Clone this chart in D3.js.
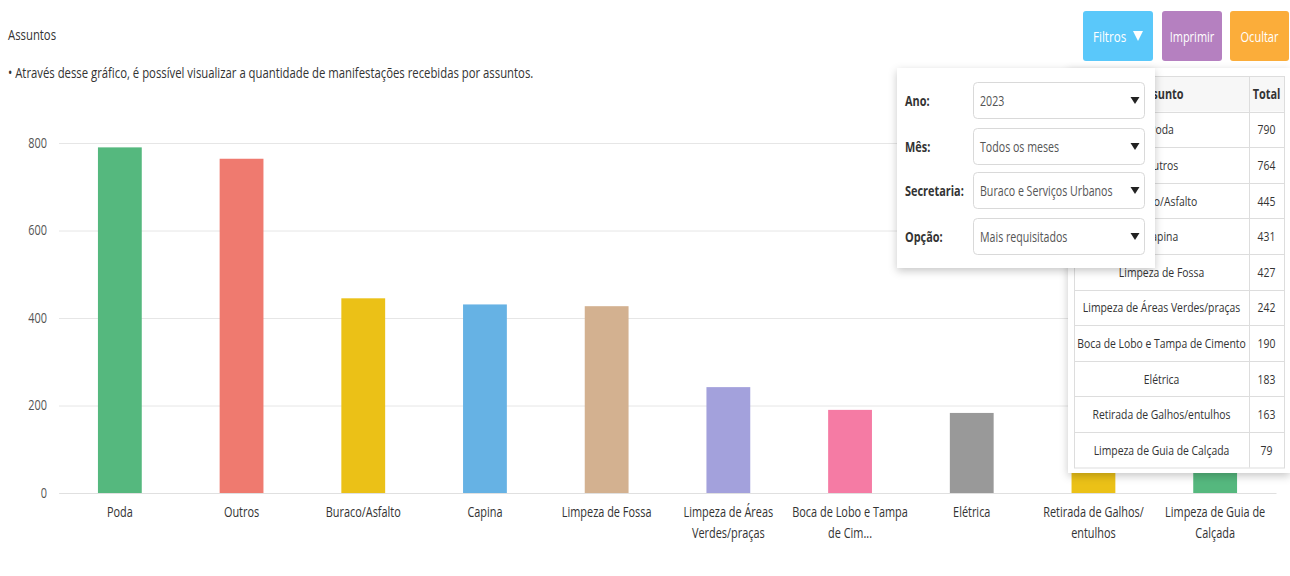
<!DOCTYPE html>
<html lang="pt-BR">
<head>
<meta charset="utf-8">
<title>Assuntos</title>
<script src="https://cdn.jsdelivr.net/npm/d3@7"></script>
<style>
  html, body { margin: 0; padding: 0; background: #fff; }
  svg { display: block; }
  text { font-family: "Open Sans", "Noto Sans", sans-serif; }
</style>
</head>
<body>
<svg id="chart" width="1290" height="576"></svg>
<script>
// Manifestações por assunto
const categories = ["Poda", "Outros", "Buraco/Asfalto", "Capina", "Limpeza de Fossa",
  "Limpeza de Áreas Verdes/praças", "Boca de Lobo e Tampa de Cimento", "Elétrica",
  "Retirada de Galhos/entulhos", "Limpeza de Guia de Calçada"];
const totals = [790, 764, 445, 431, 427, 242, 190, 183, 163, 79];
const tickLabels = [["Poda"], ["Outros"], ["Buraco/Asfalto"], ["Capina"], ["Limpeza de Fossa"],
  ["Limpeza de Áreas", "Verdes/praças"], ["Boca de Lobo e Tampa", "de Cim..."], ["Elétrica"],
  ["Retirada de Galhos/", "entulhos"], ["Limpeza de Guia de", "Calçada"]];
const barColors = ["#55b87e", "#ef7a6f", "#ebc117", "#66b2e4", "#d3b190",
  "#a3a1dc", "#f57ba4", "#999999", "#ebc117", "#55b87e"];
const yTicks = [0, 200, 400, 600, 800];

// Filtros
const filterLabels = ["Ano:", "Mês:", "Secretaria:", "Opção:"];
const filterValues = ["2023", "Todos os meses", "Buraco e Serviços Urbanos", "Mais requisitados"];
const buttonLabels = ["Filtros", "Imprimir", "Ocultar"];
const buttonColors = ["#5ac8fa", "#b580c0", "#fbad3a"];
const tableHeader = ["Assunto", "Total"];

const SX = 0.78; // condensed text width
const svg = d3.select("#chart");

const defs = svg.append("defs");
const sh = defs.append("filter").attr("id", "shadow")
  .attr("x", "-10%").attr("y", "-10%").attr("width", "125%").attr("height", "125%");
sh.append("feDropShadow").attr("dx", 0).attr("dy", 3).attr("stdDeviation", 4)
  .attr("flood-color", "#000").attr("flood-opacity", 0.22);

function label(parent, x, y, str, opts = {}) {
  return parent.append("text")
    .attr("transform", `translate(${x},${y}) scale(${opts.sx || SX},1)`)
    .attr("text-anchor", opts.anchor || "start")
    .attr("font-size", opts.size || 14)
    .attr("font-weight", opts.weight || "normal")
    .attr("fill", opts.fill || "#333")
    .text(str);
}

// Header texts
label(svg, 8, 40, "Assuntos", { size: 14, fill: "#333", sx: 0.81 });
label(svg, 8, 78, "• Através desse gráfico, é possível visualizar a quantidade de manifestações recebidas por assuntos.", { size: 14, fill: "#333", sx: 0.81 });

// Scales
const x = d3.scaleBand().domain(categories).range([59, 1276])
  .paddingInner(0.64).paddingOuter(0.32);
const y = d3.scaleLinear().domain([0, 800]).range([493, 143]);

// Grid + y axis
const yAxis = svg.append("g").attr("transform", "translate(59,0)")
  .call(d3.axisLeft(y).tickValues(yTicks).tickSize(-1217).tickPadding(12));
yAxis.select(".domain").remove();
yAxis.selectAll(".tick line").attr("stroke", "#e6e6e6").attr("stroke-width", 1);
yAxis.selectAll(".tick text")
  .attr("font-size", 14).attr("fill", "#555")
  .attr("x", -12 / SX)
  .attr("transform", `scale(${SX},1)`);

// Bars
svg.append("g").selectAll("rect").data(categories).join("rect")
  .attr("x", d => x(d))
  .attr("width", x.bandwidth())
  .attr("y", (d, i) => y(totals[i]))
  .attr("height", (d, i) => y(0) - y(totals[i]))
  .attr("fill", (d, i) => barColors[i]);

// X axis
const xAxis = svg.append("g").attr("transform", "translate(0,493)")
  .call(d3.axisBottom(x).tickSize(0).tickPadding(0));
xAxis.select(".domain").attr("stroke", "#e0e0e0").attr("d", "M59.5,0.5H1276.5");
xAxis.selectAll(".tick text").each(function (d, i) {
  const t = d3.select(this).text(null)
    .attr("y", 0).attr("dy", null)
    .attr("font-size", 14).attr("fill", "#333")
    .attr("transform", `scale(${SX},1)`);
  tickLabels[i].forEach((line, k) => {
    t.append("tspan").attr("x", 0).attr("y", 24 + k * 21).text(line);
  });
});

// Buttons
const btnX = [1083, 1162, 1230];
const btnW = [70, 60, 59];
buttonLabels.forEach((b, i) => {
  svg.append("rect").attr("x", btnX[i]).attr("y", 11).attr("width", btnW[i]).attr("height", 50)
    .attr("rx", 3).attr("fill", buttonColors[i]);
  if (i === 0) {
    label(svg, btnX[i] + 10, 42, b, { size: 14.5, fill: "#fff", sx: 0.8 });
    svg.append("path").attr("d", "M1133,31L1143,31L1138,41Z").attr("fill", "#fff");
  } else {
    label(svg, btnX[i] + btnW[i] / 2, 42, b, { anchor: "middle", size: 14.5, fill: "#fff", sx: 0.76 });
  }
});

// Table panel
const tbl = svg.append("g");
tbl.append("rect").attr("x", 1068).attr("y", 68).attr("width", 222).attr("height", 405)
  .attr("fill", "#fff").attr("filter", "url(#shadow)");
const tx0 = 1074, tx1 = 1249, tx2 = 1284, ty0 = 76, hdrH = 35.5, rowH = 35.6;
tbl.append("rect").attr("x", tx0).attr("y", ty0).attr("width", tx2 - tx0).attr("height", hdrH)
  .attr("fill", "#f7f7f7");
const nRows = categories.length;
const yBottom = ty0 + hdrH + rowH * nRows;
tbl.append("rect").attr("x", tx0 + 0.5).attr("y", ty0 + 0.5).attr("width", tx2 - tx0)
  .attr("height", yBottom - ty0).attr("fill", "none").attr("stroke", "#dddddd");
tbl.append("line").attr("x1", tx1 + 0.5).attr("x2", tx1 + 0.5).attr("y1", ty0).attr("y2", yBottom)
  .attr("stroke", "#dddddd");
categories.forEach((c, i) => {
  const ry = ty0 + hdrH + rowH * i;
  tbl.append("line").attr("x1", tx0).attr("x2", tx2).attr("y1", Math.round(ry) + 0.5)
    .attr("y2", Math.round(ry) + 0.5).attr("stroke", "#dddddd");
  label(tbl, (tx0 + tx1) / 2, ry + rowH / 2 + 5, c, { anchor: "middle", size: 13.5, fill: "#333", sx: 0.77 });
  label(tbl, (tx1 + tx2) / 2, ry + rowH / 2 + 5, totals[i], { anchor: "middle", size: 13.5, fill: "#333", sx: 0.77 });
});
label(tbl, (tx0 + tx1) / 2, ty0 + hdrH / 2 + 5, tableHeader[0], { anchor: "middle", size: 14, weight: "bold", fill: "#333" });
label(tbl, (tx1 + tx2) / 2, ty0 + hdrH / 2 + 5, tableHeader[1], { anchor: "middle", size: 14, weight: "bold", fill: "#333" });

// Filter panel
const fp = svg.append("g");
fp.append("rect").attr("x", 897).attr("y", 68).attr("width", 258).attr("height", 200)
  .attr("fill", "#fff").attr("filter", "url(#shadow)");
const selTop = [82, 128, 172, 218];
filterLabels.forEach((l, i) => {
  const top = selTop[i], mid = top + 18.5;
  label(fp, 905, mid + 5, l, { size: 14, weight: "bold", fill: "#333" });
  fp.append("rect").attr("x", 973.5).attr("y", top + 0.5).attr("width", 171).attr("height", 36)
    .attr("rx", 4).attr("fill", "#fff").attr("stroke", "#d9d9d9");
  label(fp, 980, mid + 5, filterValues[i], { size: 14, fill: "#555", sx: 0.76 });
  fp.append("path")
    .attr("d", `M${1130.5},${mid - 3.5}L${1139.5},${mid - 3.5}L${1135},${mid + 3.5}Z`)
    .attr("fill", "#222");
});
</script>
</body>
</html>
